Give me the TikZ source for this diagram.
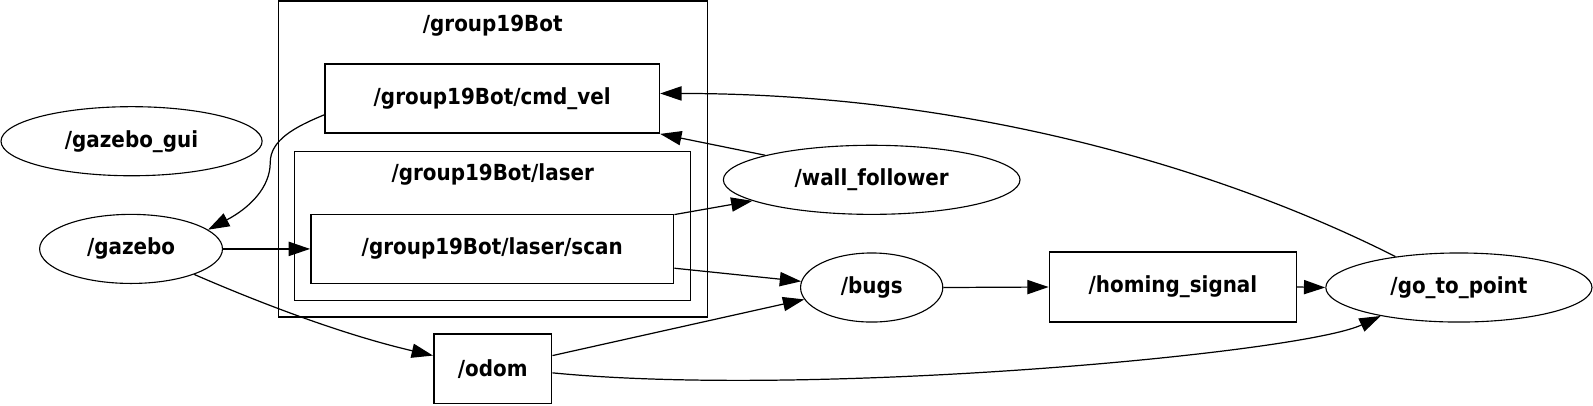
\documentclass[tikz,border=0pt]{standalone}
\usepackage{fontspec}
\setmainfont{DejaVu Sans Condensed}[BoldFont={DejaVu Sans Condensed Bold}]
\usetikzlibrary{shapes.geometric,arrows.meta}
\tikzset{
  x=1pt,y=-1pt,
  lbl/.style={font=\bfseries\fontsize{21.8}{22}\selectfont},
  topic/.style={draw,line width=1.6pt,rectangle,inner sep=0,lbl},
  nodell/.style={draw,line width=1.1pt,ellipse,inner sep=0,minimum height=68pt,lbl},
  clusterbox/.style={draw,line width=1.1pt},
  edge/.style={line width=1.2pt,-{Triangle[length=21pt,width=14pt]}},
}
\begin{document}
\begin{tikzpicture}
\useasboundingbox (0,0) rectangle (1568,398.7);
% clusters
\draw[clusterbox] (274,1) rectangle (696,312);
\node[lbl] (c1lbl) at (485,25) {/group19Bot};
\draw[clusterbox] (290,149) rectangle (680,296);
\node[lbl] (c2lbl) at (485,172) {/group19Bot/laser};
% topics
\node[topic,minimum width=329pt,minimum height=68pt] (cmd) at (484.5,97) {/group19Bot/cmd\_vel};
\node[topic,minimum width=357pt,minimum height=68pt] (scan) at (484.5,245) {/group19Bot/laser/scan};
\node[topic,minimum width=116pt,minimum height=68pt] (odom) at (485,363) {/odom};
\node[topic,minimum width=243pt,minimum height=69pt] (homing) at (1154.5,282.5) {/homing\_signal};
% nodes
\node[nodell,minimum width=257pt] (gui) at (129.5,139) {/gazebo\_gui};
\node[nodell,minimum width=180pt] (gazebo) at (129,245) {/gazebo};
\node[nodell,minimum width=292pt] (wall) at (858,177) {/wall\_follower};
\node[nodell,minimum width=140pt] (bugs) at (858,283) {/bugs};
\node[nodell,minimum width=262pt] (go) at (1436,283) {/go\_to\_point};
% edges
\draw[edge] ([yshift=-16pt]cmd.west) .. controls (290,125) and (266,138) .. (266,160)
   .. controls (266,185) and (245,205) .. (gazebo.14);
\draw[edge] (gazebo.east) -- (scan.west);
\draw[edge] (gazebo.-22) .. controls (260,300) and (340,330) .. ([yshift=13pt]odom.west);
\draw[edge] ([yshift=-1pt]scan.north east) -- (wall.190);
\draw[edge] ([yshift=-19pt]scan.east) -- (bugs.175);
\draw[edge] (wall.167) -- (cmd.south east);
\draw[edge] (go.154) .. controls (1200,165) and (950,92) .. ([yshift=5pt]cmd.east);
\draw[edge] ([yshift=13pt]odom.east) -- (bugs.190);
\draw[edge] ([yshift=-4pt]odom.east) .. controls (800,392) and (1280,348) .. (go.200);
\draw[edge] (bugs.east) -- (homing.west);
\draw[edge] (homing.east) -- (go.west);
\end{tikzpicture}
\end{document}
